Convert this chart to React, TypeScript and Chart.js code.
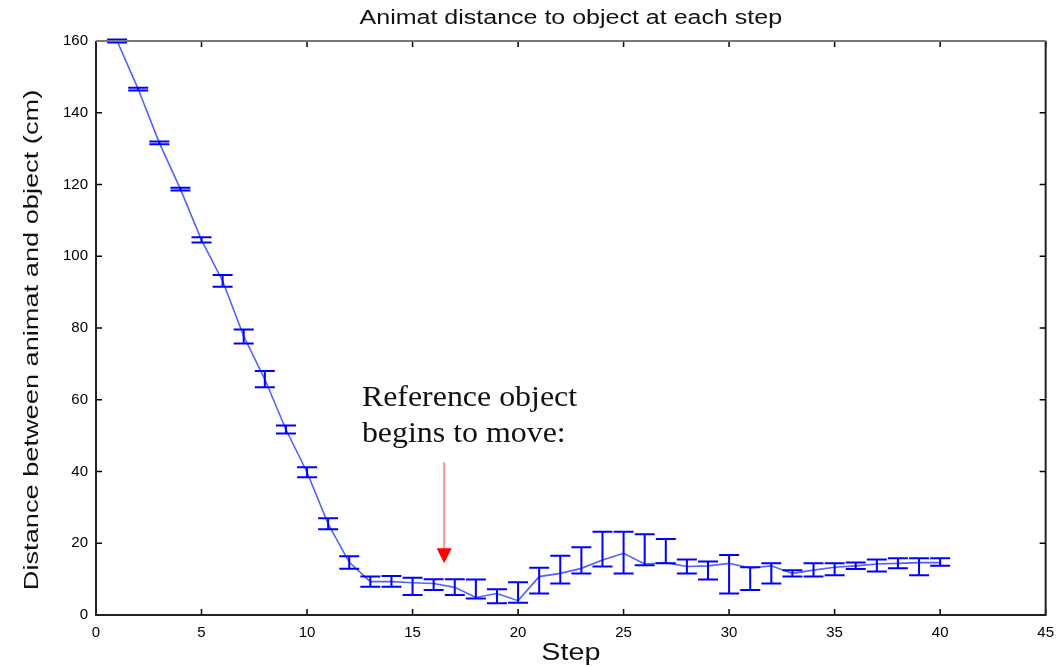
import React, { useEffect, useRef } from "react";
import { Chart, registerables } from "chart.js";

Chart.register(...registerables);

const steps = [1, 2, 3, 4, 5, 6, 7, 8, 9, 10, 11, 12, 13, 14, 15, 16, 17, 18, 19, 20, 21, 22, 23, 24, 25, 26, 27, 28, 29, 30, 31, 32, 33, 34, 35, 36, 37, 38, 39, 40];
const meanDistance = [160, 146.6, 131.6, 118.7, 104.5, 93.1, 77.7, 65.7, 51.7, 39.8, 25.4, 14.7, 9.3, 9.3, 9.0, 8.8, 7.7, 4.9, 6.0, 4.0, 10.7, 11.6, 13.0, 15.3, 17.2, 14.2, 14.6, 13.5, 13.7, 14.4, 13.1, 13.7, 11.6, 12.5, 13.3, 13.7, 14.2, 14.4, 14.6, 14.6];
const errorLow = [159.6, 146.2, 131.2, 118.3, 103.8, 91.5, 75.7, 63.5, 50.6, 38.4, 23.9, 12.9, 7.9, 7.9, 5.6, 7.0, 5.6, 4.6, 3.3, 3.4, 6.0, 8.8, 11.6, 13.5, 11.6, 13.9, 14.4, 11.6, 9.9, 6.0, 7.0, 8.8, 10.7, 10.7, 11.1, 12.8, 12.1, 13.0, 11.1, 13.7];
const errorHigh = [160.4, 147.0, 132.0, 119.1, 105.3, 94.8, 79.6, 68.0, 52.8, 41.2, 27.0, 16.4, 10.7, 10.9, 10.4, 10.0, 10.0, 9.9, 7.2, 9.1, 13.2, 16.5, 18.9, 23.2, 23.2, 22.5, 21.2, 15.5, 14.9, 16.7, 13.3, 14.4, 12.5, 14.4, 14.4, 14.6, 15.5, 15.8, 15.8, 15.8];
const xTicks = [0, 5, 10, 15, 20, 25, 30, 35, 40, 45];
const yTicks = [0, 20, 40, 60, 80, 100, 120, 140, 160];

const chartTitle = "Animat distance to object at each step";
const xTitle = "Step";
const yTitle = "Distance between animat and object (cm)";

const noteLines = ["Reference object", "begins to move:"];
const noteStep = 12.6;
const noteLineValues = [58.3, 48.3];
const arrowStep = 16.5;
const arrowFrom = 42.6;
const arrowTo = 14.4;

const SANS = "'Liberation Sans', Arial, Helvetica, sans-serif";
const SERIF = "'Liberation Serif', 'Times New Roman', serif";

function stretchedText(ctx: any, text: string, x: number, y: number, font: string, sx: number, rot: number) {
  ctx.save();
  ctx.translate(x, y);
  ctx.rotate(rot);
  ctx.scale(sx, 1);
  ctx.font = font;
  ctx.textAlign = "center";
  ctx.textBaseline = "alphabetic";
  ctx.fillText(text, 0, 0);
  ctx.restore();
}

const overlayPlugin = {
  id: "overlay",
  afterDatasetsDraw(chart: any) {
    const ctx = chart.ctx;
    const xs = chart.scales.x;
    const ys = chart.scales.y;
    const area = chart.chartArea;
    ctx.save();
    // error bars
    ctx.strokeStyle = "rgb(0,0,255)";
    ctx.lineWidth = 2;
    const cap = 10;
    steps.forEach((s, i) => {
      const px = xs.getPixelForValue(s);
      const pl = ys.getPixelForValue(errorLow[i]);
      const ph = ys.getPixelForValue(errorHigh[i]);
      ctx.beginPath();
      ctx.moveTo(px, pl);
      ctx.lineTo(px, ph);
      ctx.moveTo(px - cap, pl);
      ctx.lineTo(px + cap, pl);
      ctx.moveTo(px - cap, ph);
      ctx.lineTo(px + cap, ph);
      ctx.stroke();
    });
    // inside tick marks
    ctx.strokeStyle = "#000";
    ctx.lineWidth = 1.5;
    const tl = 6;
    xTicks.forEach((t) => {
      const px = xs.getPixelForValue(t);
      ctx.beginPath();
      ctx.moveTo(px, area.bottom);
      ctx.lineTo(px, area.bottom - tl);
      ctx.moveTo(px, area.top);
      ctx.lineTo(px, area.top + tl);
      ctx.stroke();
    });
    yTicks.forEach((t) => {
      const py = ys.getPixelForValue(t);
      ctx.beginPath();
      ctx.moveTo(area.left, py);
      ctx.lineTo(area.left + tl, py);
      ctx.moveTo(area.right, py);
      ctx.lineTo(area.right - tl, py);
      ctx.stroke();
    });
    // frame
    ctx.lineWidth = 2;
    ctx.strokeStyle = "#222";
    ctx.beginPath();
    ctx.moveTo(area.left, area.top);
    ctx.lineTo(area.left, area.bottom);
    ctx.lineTo(area.right, area.bottom);
    ctx.lineTo(area.right, area.top);
    ctx.stroke();
    ctx.strokeStyle = "#777";
    ctx.beginPath();
    ctx.moveTo(area.left, area.top);
    ctx.lineTo(area.right, area.top);
    ctx.stroke();
    // annotation text
    ctx.fillStyle = "#111";
    ctx.font = "29px " + SERIF;
    noteLines.forEach((line, i) => {
      const px = xs.getPixelForValue(noteStep);
      const py = ys.getPixelForValue(noteLineValues[i]);
      ctx.save();
      ctx.translate(px, py);
      ctx.scale(1.1, 1);
      ctx.textAlign = "left";
      ctx.textBaseline = "alphabetic";
      ctx.fillText(line, 0, 0);
      ctx.restore();
    });
    // arrow
    const ax = xs.getPixelForValue(arrowStep);
    const ay0 = ys.getPixelForValue(arrowFrom);
    const ay1 = ys.getPixelForValue(arrowTo);
    ctx.strokeStyle = "rgb(255,150,150)";
    ctx.lineWidth = 2;
    ctx.beginPath();
    ctx.moveTo(ax, ay0);
    ctx.lineTo(ax, ay1 - 14);
    ctx.stroke();
    ctx.fillStyle = "rgb(255,0,0)";
    ctx.beginPath();
    ctx.moveTo(ax - 7.5, ay1 - 15);
    ctx.lineTo(ax + 7.5, ay1 - 15);
    ctx.lineTo(ax, ay1);
    ctx.closePath();
    ctx.fill();
    // titles
    ctx.fillStyle = "#111";
    const cx = (area.left + area.right) / 2;
    const cy = (area.top + area.bottom) / 2;
    stretchedText(ctx, chartTitle, cx, area.top - 17, "20px " + SANS, 1.25, 0);
    stretchedText(ctx, xTitle, cx, area.bottom + 45, "23px " + SANS, 1.25, 0);
    stretchedText(ctx, yTitle, area.left - 58, cy + 12, "20px " + SANS, 1.36, -Math.PI / 2);
    ctx.restore();
  },
};

export default function App() {
  const ref = useRef<HTMLCanvasElement | null>(null);
  useEffect(() => {
    if (!ref.current) return;
    const chart = new Chart(ref.current, {
      type: "line",
      data: {
        datasets: [
          {
            label: "Distance",
            data: steps.map((s, i) => ({ x: s, y: meanDistance[i] })),
            borderColor: "rgba(50,70,255,0.85)",
            borderWidth: 1.6,
            pointRadius: 0,
            tension: 0,
          },
        ],
      },
      options: {
        animation: false,
        responsive: false,
        maintainAspectRatio: false,
        layout: { padding: { left: 0, right: 14, top: 41, bottom: 0 } },
        plugins: {
          legend: { display: false },
          tooltip: { enabled: false },
          title: { display: false },
        },
        scales: {
          x: {
            type: "linear",
            min: 0,
            max: 45,
            afterFit: (s: any) => {
              s.height = 51;
            },
            grid: { display: false, drawTicks: false },
            border: { display: false },
            ticks: {
              stepSize: 5,
              padding: 9,
              color: "#000",
              font: { family: SANS, size: 15 },
            },
          },
          y: {
            min: 0,
            max: 160,
            afterFit: (s: any) => {
              s.width = 96;
            },
            grid: { display: false, drawTicks: false },
            border: { display: false },
            ticks: {
              stepSize: 20,
              padding: 8,
              color: "#000",
              font: { family: SANS, size: 15 },
            },
          },
        },
      },
      plugins: [overlayPlugin],
    });
    return () => chart.destroy();
  }, []);
  return (
    <canvas
      ref={ref}
      width={1063}
      height={666}
      style={{ position: "fixed", left: 0, top: 0, width: 1063, height: 666, background: "#fff" }}
    />
  );
}
